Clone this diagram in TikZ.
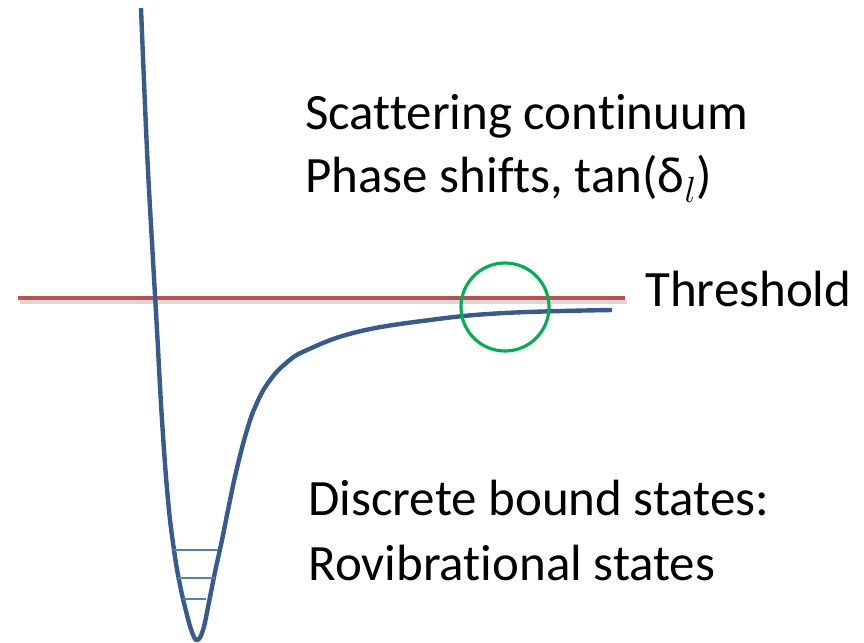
\documentclass[tikz,border=0pt]{standalone}
\usepackage{fontspec}
\setmainfont{Carlito}[Ligatures=NoCommon]
\usepackage{tikz}
\definecolor{curveblue}{RGB}{54,91,140}
\definecolor{levelblue}{RGB}{79,129,189}
\definecolor{threshred}{RGB}{192,80,77}
\definecolor{circgreen}{RGB}{0,176,80}

\begin{document}
\begin{tikzpicture}[x=0.02cm, y=-0.02cm, font=\fontsize{29}{30}\selectfont]
    \useasboundingbox (0,0) rectangle (864,642);
    % threshold line with its soft shadow
    \draw[line width=2.6pt, black!15] (20,302) -- (627,302);
    \draw[line width=2.5pt, threshred] (18,298) -- (625,298);
    % potential curve
    \draw[line width=2.5pt, curveblue, line join=round] plot[smooth, tension=0.7] coordinates {
        (141,8) (147,150) (153,260) (157,330) (162,420) (168,500) (174,550)
        (180,585) (187,615) (192,632) (197,640) (203,630) (209,602) (215,572)
        (222,540) (229,505) (237,468) (247,430) (256,405) (268,383) (285,364)
        (307,350) (357,332) (430,320) (505,313) (612,310)};
    % rovibrational levels
    \draw[line width=1.1pt, levelblue] (173,550) -- (218,550);
    \draw[line width=1.1pt, levelblue] (178,578) -- (215,578);
    \draw[line width=1.1pt, levelblue] (183,599) -- (206,599);
    % threshold circle
    \draw[line width=1.8pt, circgreen] (505,307) circle (44);
    % labels
    \node[anchor=base west, inner sep=0pt] (scat) at (305,129) {Scattering continuum};
    \node[anchor=base west, inner sep=0pt] (phase) at (305,192) {Phase shifts, tan(δ$_{l}$)};
    \node[anchor=base west, inner sep=0pt] (thresh) at (645,306) {Threshold};
    \node[anchor=base west, inner sep=0pt] (disc) at (308,515) {Discrete bound states:};
    \node[anchor=base west, inner sep=0pt] (rovib) at (308,580) {Rovibrational states};
\end{tikzpicture}
\end{document}
